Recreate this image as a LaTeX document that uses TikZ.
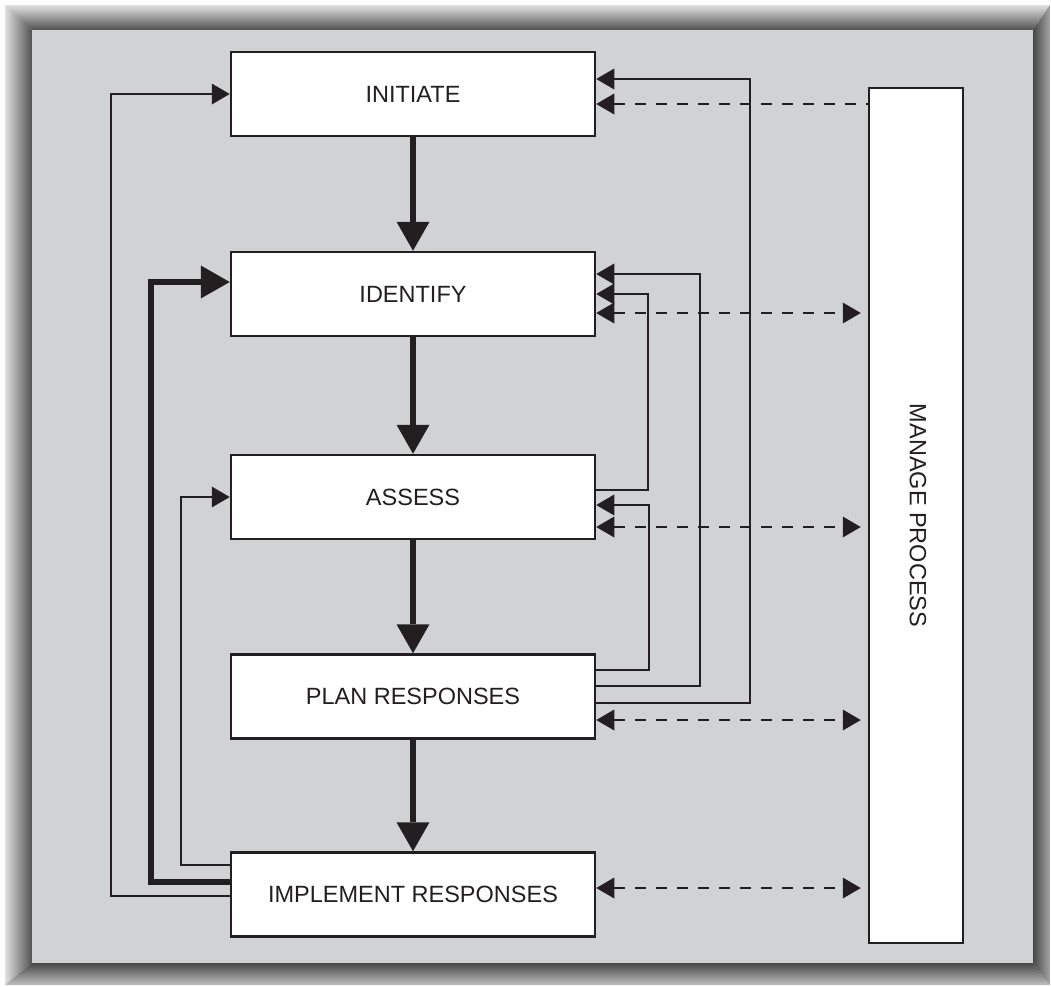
\documentclass[tikz,border=0pt]{standalone}
\usepackage{fontspec}
\setmainfont{Liberation Sans}
\usepackage{tikz}
\usetikzlibrary{arrows.meta,calc}

\definecolor{panel}{RGB}{209,210,212}
\definecolor{ink}{RGB}{35,31,32}

\begin{document}
\begin{tikzpicture}[x=1pt, y=-1pt,
  >={Triangle[length=18pt,width=21pt,line width=0pt]},
  box/.style={draw=ink, line width=2.5pt, fill=white, minimum width=364pt, minimum height=84pt, inner sep=0pt, text=ink, font=\fontsize{23.5}{28}\selectfont},
  fb/.style={draw=ink, line width=2.2pt, ->},
  big/.style={draw=ink, line width=6pt, -{Triangle[length=29pt,width=33pt,line width=0pt]}},
  dsh/.style={draw=ink, line width=2.5pt, dash pattern=on 11pt off 10pt}]
\useasboundingbox (0,0) rectangle (1051,986);

% frame: bevel round the grey panel
\shade[top color=black!12, bottom color=black!68] (5,5) -- (1050,5) -- (1033,30) -- (32,30) -- cycle;
\shade[left color=black!12, right color=black!68] (5,5) -- (32,30) -- (32,963) -- (5,985) -- cycle;
\shade[left color=black!72, right color=black!35] (1033,30) -- (1050,5) -- (1050,985) -- (1033,963) -- cycle;
\shade[top color=black!72, bottom color=black!25] (32,963) -- (1033,963) -- (1050,985) -- (5,985) -- cycle;
\fill[panel] (32,30) rectangle (1033,963);

\node[box] (init) at (413,94) {INITIATE};
\node[box] (ident) at (413,294) {IDENTIFY};
\node[box] (assess) at (413,497) {ASSESS};
\node[box] (plan) at (413,696.5) {PLAN RESPONSES};
\node[box] (impl) at (413,894.5) {IMPLEMENT RESPONSES};
\node[draw=ink, line width=2.5pt, fill=white, minimum width=94pt, minimum height=855pt, inner sep=0pt] (manage) at (916,515.5) {};
\node[rotate=-90, text=ink, font=\fontsize{23.5}{28}\selectfont] (mp) at ($(manage.center)+(2,0)$) {MANAGE PROCESS};

% main flow down the middle
\draw[big] (init) -- (ident);
\draw[big] (ident) -- (assess);
\draw[big] (assess) -- (plan);
\draw[big] (plan) -- (impl);

% loops back on the left
\draw[fb] ($(impl.west)+(0,1.5)$) -- ++(-119,0) |- (init.west);
\draw[big, line join=miter] ($(impl.west)+(0,-12.5)$) -- ++(-79,0) |- ($(ident.west)+(0,-12)$);
\draw[fb] ($(impl.west)+(0,-29.5)$) -- ++(-49,0) |- (assess.west);

% loops back on the right
\draw[fb] ($(assess.east)+(0,-7)$) -- ++(52,0) |- (ident.east);
\draw[fb] ($(plan.east)+(0,-26.5)$) -- ++(53,0) |- ($(assess.east)+(0,8)$);
\draw[fb] ($(plan.east)+(0,-10.5)$) -- ++(104,0) |- ($(ident.east)+(0,-20)$);
\draw[fb] ($(plan.east)+(0,6.5)$) -- ++(154,0) |- ($(init.east)+(0,-15)$);

% dashed links to manage process
\draw[dsh, <-] ($(init.east)+(0,10)$) -- ($(manage.west |- init.east)+(0,10)$);
\draw[dsh, <->, shorten >=7pt] ($(ident.east)+(0,19)$) -- ($(manage.west |- ident.east)+(0,19)$);
\draw[dsh, <->, shorten >=7pt] ($(assess.east)+(0,30)$) -- ($(manage.west |- assess.east)+(0,30)$);
\draw[dsh, <->, shorten >=7pt] ($(plan.east)+(0,23.5)$) -- ($(manage.west |- plan.east)+(0,23.5)$);
\draw[dsh, <->, shorten >=7pt] ($(impl.east)+(0,-6.5)$) -- ($(manage.west |- impl.east)+(0,-6.5)$);
\end{tikzpicture}
\end{document}
